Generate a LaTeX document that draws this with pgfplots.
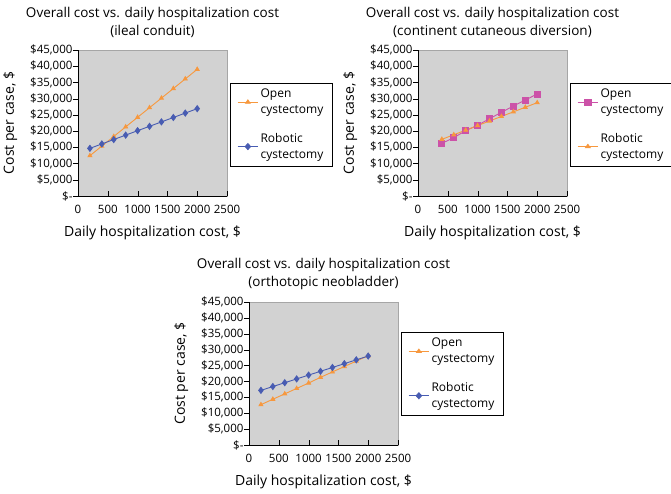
\documentclass[border=0pt]{standalone}
\usepackage{pgfplots}
\pgfplotsset{compat=1.18}
\usepackage{fontspec}
\setmainfont{Open Sans}

\definecolor{openorange}{RGB}{247,152,62}
\definecolor{robblue}{RGB}{72,92,178}
\definecolor{openpink}{RGB}{204,82,168}
\definecolor{panelgray}{RGB}{210,210,210}

\pgfplotsset{
  costpanel/.style={
    width=149pt, height=146pt, scale only axis,
    xmin=0, xmax=2500, ymin=0, ymax=45000,
    scaled y ticks=false, scaled x ticks=false,
    xtick={0,500,1000,1500,2000,2500},
    ytick={0,5000,10000,15000,20000,25000,30000,35000,40000,45000},
    yticklabels={\$-\hspace{3pt},\$5{,}000,\$10{,}000,\$15{,}000,\$20{,}000,\$25{,}000,\$30{,}000,\$35{,}000,\$40{,}000,\$45{,}000},
    xticklabels={0,500,1000,1500,2000,2500},
    axis x line*=bottom, axis y line*=left,
    axis background/.style={fill=panelgray, draw=gray!70},
    tick align=inside, major tick length=5pt,
    y tick style={xshift=-5pt, black},
    x tick style={black},
    yticklabel style={xshift=-2pt},
    xticklabel style={yshift=-6pt},
    tick label style={font=\fontsize{11.5}{13}\selectfont},
    xlabel={Daily hospitalization cost, \$},
    ylabel={Cost per case, \$},
    label style={font=\fontsize{14}{16}\selectfont},
    xlabel style={yshift=-5pt},
    ylabel style={yshift=6pt},
    title style={align=center, font=\fontsize{13.5}{18}\selectfont, yshift=3pt},
    legend cell align=left,
    legend style={draw=black, fill=white, font=\fontsize{12}{16}\selectfont,
      cells={align=left}, row sep=14pt, inner xsep=7pt, inner ysep=4pt,
      at={(1.02,0.775)}, anchor=north west},
    legend image post style={xscale=1.2},
  },
  openline/.style={color=openorange, line width=0.9pt, mark=triangle*, mark size=2.2pt},
  robline/.style={color=robblue, line width=0.9pt, mark=diamond*, mark size=3pt},
  pinkline/.style={color=openpink, line width=0.9pt, mark=square*, mark size=3pt},
}

\begin{document}
\begin{tikzpicture}
\useasboundingbox (0,0) rectangle (671pt,-493pt);

% ileal conduit
\begin{axis}[costpanel, at={(78pt,-196pt)}, anchor=south west,
  title={Overall cost vs. daily hospitalization cost\\(ileal conduit)}]
\addplot[openline] coordinates {
  (200,12430) (400,15390) (600,18350) (800,21300) (1000,24260)
  (1200,27220) (1400,30170) (1600,33130) (1800,36090) (2000,39040)};
\addplot[robline] coordinates {
  (200,14690) (400,16050) (600,17410) (800,18770) (1000,20130)
  (1200,21480) (1400,22840) (1600,24200) (1800,25560) (2000,26920)};
\legend{Open\\cystectomy, Robotic\\cystectomy}
\end{axis}

% continent cutaneous diversion
\begin{axis}[costpanel, at={(418pt,-196pt)}, anchor=south west,
  title={Overall cost vs. daily hospitalization cost\\(continent cutaneous diversion)}]
\addplot[pinkline] coordinates {
  (400,16230) (600,17980) (800,20140) (1000,21780) (1200,23840)
  (1400,25790) (1600,27740) (1800,29590) (2000,31440)};
\addplot[openline] coordinates {
  (400,17470) (600,18880) (800,20290) (1000,21710) (1200,23120)
  (1400,24530) (1600,25940) (1800,27350) (2000,28770)};
\legend{Open\\cystectomy, Robotic\\cystectomy}
\end{axis}

% orthotopic neobladder
\begin{axis}[costpanel, at={(249pt,-445pt)}, anchor=south west, height=143pt,
  title={Overall cost vs. daily hospitalization cost\\(orthotopic neobladder)},
  legend style={at={(1.02,0.79)}}]
\addplot[openline] coordinates {
  (200,12700) (400,14400) (600,16100) (800,17800) (1000,19500)
  (1200,21300) (1400,23000) (1600,24700) (1800,26400) (2000,28100)};
\addplot[robline] coordinates {
  (200,17190) (400,18400) (600,19600) (800,20800) (1000,22000)
  (1200,23200) (1400,24400) (1600,25600) (1800,26800) (2000,28000)};
\legend{Open\\cystectomy, Robotic\\cystectomy}
\end{axis}
\end{tikzpicture}
\end{document}
